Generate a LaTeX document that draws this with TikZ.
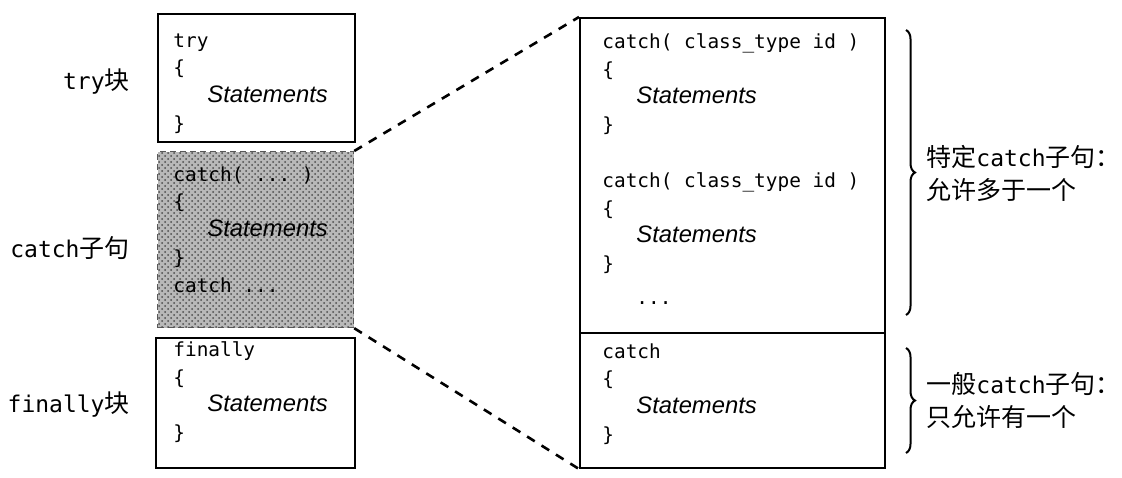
\documentclass[tikz,border=0pt]{standalone}
\usepackage{fontspec}
\setmainfont{Liberation Sans}
\setmonofont{DejaVu Sans Mono}
\newfontfamily\cjkfont{Noto Sans CJK SC}
\usetikzlibrary{patterns,decorations.pathreplacing}

\newcommand{\stmts}{\hspace*{17pt}{\rmfamily\itshape\fontsize{11.9}{13.9}\selectfont Statements}}
\newcommand{\lblcode}[1]{{\ttfamily\fontsize{11.5}{16.5}\selectfont #1}}

\begin{document}
\begin{tikzpicture}[
    x=0.5pt, y=-0.5pt,
    codebox/.style={draw, line width=1pt, anchor=north west, inner sep=0pt},
    shadebox/.style={draw=black!65, densely dashed, line width=0.6pt, anchor=north west, inner sep=0pt,
        fill=black!28, postaction={pattern=crosshatch dots, pattern color=black!70}},
    codetext/.style={anchor=north west, inner sep=0pt, align=left, font=\ttfamily\fontsize{9.7}{13.9}\selectfont},
    sidelabel/.style={inner sep=0pt, align=left, font=\cjkfont\fontsize{12.5}{16.5}\selectfont},
    zoomline/.style={line width=1.3pt, dash pattern=on 4.5pt off 4pt},
    bracket/.style={decorate, decoration={brace, amplitude=4.5pt}, line width=1pt}
]
\useasboundingbox (0,0) rectangle (1122,477);

% left column
\node[codebox, minimum width=98.5pt, minimum height=64pt] (trybox) at (157,13) {};
\node[shadebox, minimum width=98pt, minimum height=88pt] (catchbox) at (157,151) {};
\node[codebox, minimum width=99.5pt, minimum height=65pt] (finbox) at (155,337) {};

\node[codetext] (trytxt) at ([shift={(16,20)}]trybox.north west)
    {try\\ \{\\ \stmts\\ \}};
\node[codetext] (catchtxt) at ([shift={(16,15)}]catchbox.north west)
    {catch( ... )\\ \{\\ \stmts\\ \}\\ catch ...};
\node[codetext] (fintxt) at ([shift={(18,4)}]finbox.north west)
    {finally\\ \{\\ \stmts\\ \}};

\node[sidelabel, anchor=east] (trylbl) at (130,82) {\lblcode{try}块};
\node[sidelabel, anchor=east] (catchlbl) at (130,248) {\lblcode{catch}子句};
\node[sidelabel, anchor=east] (finlbl) at (130,405) {\lblcode{finally}块};

% right column
\node[codebox, minimum width=152.5pt, minimum height=157.5pt] (specbox) at (579,17) {};
\node[codebox, minimum width=152.5pt, minimum height=67.5pt] (genbox) at (579,332) {};

\node[codetext] (spectxt) at ([shift={(23,16)}]specbox.north west)
    {catch( class\_type id )\\ \{\\ \stmts\\ \}\\[13.9pt]
     catch( class\_type id )\\ \{\\ \stmts\\ \}\\[3pt] \hspace*{17pt}...};
\node[codetext] (gentxt) at ([shift={(23,11)}]genbox.north west)
    {catch\\ \{\\ \stmts\\ \}};

\draw[zoomline] (catchbox.north east) -- (specbox.north west);
\draw[zoomline] (catchbox.south east) -- (genbox.south west);

% braces
\coordinate (spectop) at (906,30);
\coordinate (specbot) at (906,315);
\coordinate (gentop) at (906,348);
\coordinate (genbot) at (906,453);
\draw[bracket] (spectop) -- (specbot);
\draw[bracket] (gentop) -- (genbot);

\node[sidelabel, anchor=west] (speclbl) at (926,173) {特定\lblcode{catch}子句：\\允许多于一个};
\node[sidelabel, anchor=west] (genlbl) at (926,401) {一般\lblcode{catch}子句：\\只允许有一个};
\end{tikzpicture}
\end{document}
